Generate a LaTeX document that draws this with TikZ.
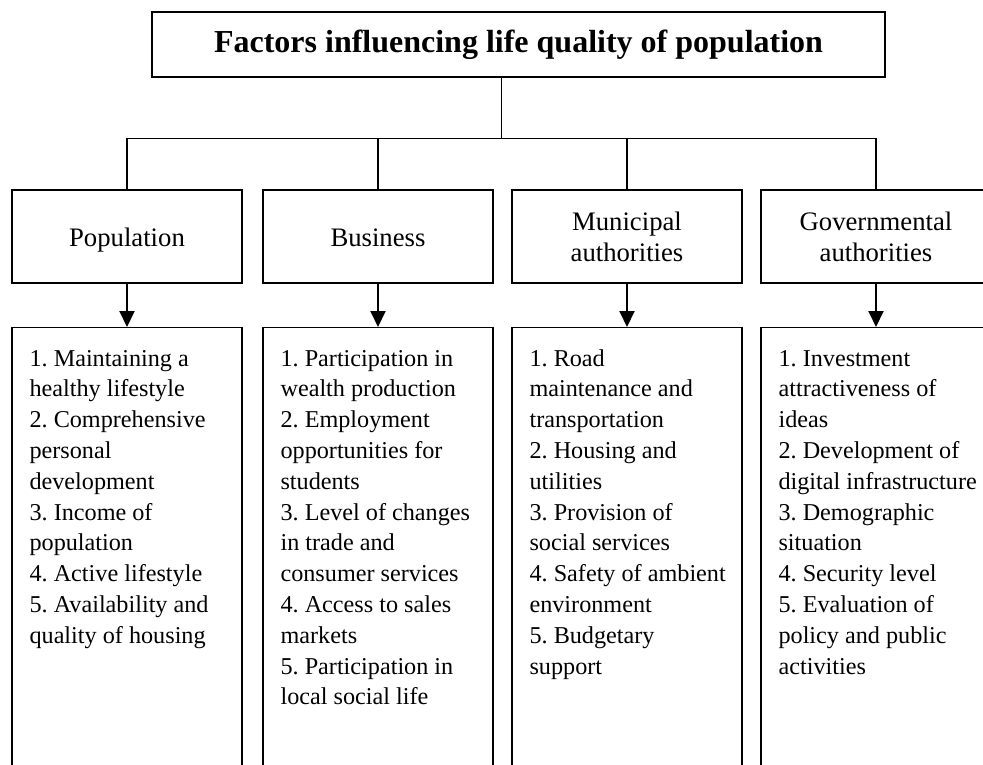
\documentclass[tikz,border=0pt]{standalone}
\usepackage{fontspec}
\setmainfont{Liberation Serif}
\usetikzlibrary{arrows.meta,calc}
\frenchspacing
% fixed first-line height and last-line depth for the group labels
\newcommand{\grouptop}{\rule{0pt}{27pt}}
\newcommand{\groupbottom}{\rule[-8pt]{0pt}{8pt}}
\begin{document}
\begin{tikzpicture}[x=1pt,y=-1pt,
  titlebox/.style={draw, line width=2.2pt, minimum width=733pt, minimum height=65pt,
    inner sep=0pt, font=\fontsize{32}{36}\selectfont\bfseries},
  groupbox/.style={draw, line width=1.3pt, minimum width=230pt, minimum height=93pt,
    inner sep=0pt, align=center, font=\fontsize{26.7}{30.8}\selectfont},
  listbox/.style={draw, line width=1.3pt, minimum width=230pt, minimum height=470pt,
    inner sep=0pt, anchor=north},
  listtext/.style={anchor=north west, inner sep=0pt, align=left,
    font=\fontsize{24.2}{30.8}\selectfont},
  link/.style={line width=1.2pt},
  feed/.style={line width=2pt, -{Triangle[width=15pt,length=16pt]}}
]
\useasboundingbox (0,0) rectangle (983,765);
\clip (0,0) rectangle (983,765);

% main heading
\node[titlebox] (title) at (518.5,44.5) {Factors influencing life quality of population};

% the four groups
\node[groupbox] (pop) at (127,236.5) {\grouptop\groupbottom Population};
\node[groupbox] (bus) at (378,236.5) {\grouptop\groupbottom Business};
\node[groupbox] (mun) at (627,236.5) {\grouptop Municipal\\\groupbottom authorities};
\node[groupbox] (gov) at (876,236.5) {\grouptop Governmental\\\groupbottom authorities};

% factor lists (open at the bottom of the page)
\node[listbox] (popl) at (127,327) {};
\node[listbox] (busl) at (378,327) {};
\node[listbox] (munl) at (627,327) {};
\node[listbox] (govl) at (876,327) {};

% first line starts with a strut: its top lies 0.7 baselineskip above the baseline
\node[listtext] (popt) at ($(popl.north west)+(18,17.4)$) {\strut 1. Maintaining a\\healthy lifestyle\\2. Comprehensive\\personal\\development\\3. Income of\\population\\4. Active lifestyle\\5. Availability and\\quality of housing};
\node[listtext] (bust) at ($(busl.north west)+(18,17.4)$) {\strut 1. Participation in\\wealth production\\2. Employment\\opportunities for\\students\\3. Level of changes\\in trade and\\consumer services\\4. Access to sales\\markets\\5. Participation in\\local social life};
\node[listtext] (munt) at ($(munl.north west)+(18,17.4)$) {\strut 1. Road\\maintenance and\\transportation\\2. Housing and\\utilities\\3. Provision of\\social services\\4. Safety of ambient\\environment\\5. Budgetary\\support};
\node[listtext] (govt) at ($(govl.north west)+(18,17.4)$) {\strut 1. Investment\\attractiveness of\\ideas\\2. Development of\\digital infrastructure\\3. Demographic\\situation\\4. Security level\\5. Evaluation of\\policy and public\\activities};

% branching lines from the heading
\coordinate (busM) at ($($(pop.north)!0.5!(gov.north)$)+(0,-51)$);
\draw[link] (title.south -| busM) -- (busM);
\draw[link] (pop.north) |- (busM) -| (gov.north);
\draw[link] (bus.north) -- (bus.north |- busM);
\draw[link] (mun.north) -- (mun.north |- busM);

% arrows to the lists
\draw[feed] (pop.south) -- (popl.north);
\draw[feed] (bus.south) -- (busl.north);
\draw[feed] (mun.south) -- (munl.north);
\draw[feed] (gov.south) -- (govl.north);
\end{tikzpicture}
\end{document}
